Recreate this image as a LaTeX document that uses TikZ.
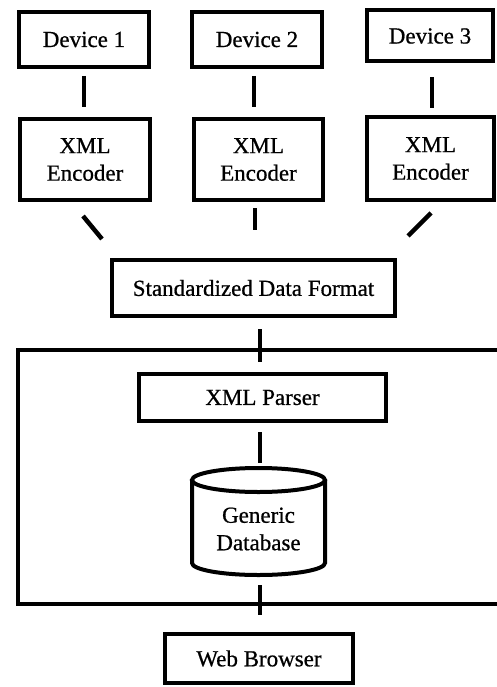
\documentclass[tikz,border=0pt]{standalone}
\usepackage{fontspec}
\setmainfont[FakeBold=0.7]{Liberation Serif}
\usetikzlibrary{calc}
\begin{document}
\begin{tikzpicture}[x=1pt,y=-1pt,
  lbl/.style={font=\fontsize{23}{27.5}\selectfont, align=center, inner sep=0pt},
  box/.style={lbl, draw, line width=4pt},
  link/.style={line width=4.5pt},
  frame/.style={line width=4pt}]
\useasboundingbox (0,0) rectangle (497,687);
\clip (0,0) rectangle (497,687);

% devices
\node[box, minimum width=130pt, minimum height=55pt] (d1) at (84,39.5) {Device 1};
\node[box, minimum width=130pt, minimum height=55pt] (d2) at (257,39.5) {Device 2};
\node[box, minimum width=126pt, minimum height=51pt] (d3) at (430,36) {Device 3};

% encoders
\node[box, minimum width=130pt, minimum height=81pt] (e1) at (85,159.5) {XML\\Encoder};
\node[box, minimum width=129pt, minimum height=81pt] (e2) at (258.5,159.5) {XML\\Encoder};
\node[box, minimum width=127pt, minimum height=83pt] (e3) at (430.5,158.5) {XML\\Encoder};

% common format
\node[box, minimum width=283pt, minimum height=56pt] (sdf) at (253.5,288) {Standardized Data Format};

% server frame (open to the right)
\draw[frame] (505,349.5) -- (18,349.5) -- (18,604) -- (505,604);

% parser
\node[box, minimum width=247pt, minimum height=47pt] (xp) at (262.5,397.5) {XML Parser};

% database cylinder
\draw[line width=4pt] (258.5,480) ellipse [x radius=66.5pt, y radius=12pt];
\draw[line width=4pt] (192,480) -- (192,563)
  arc[start angle=180, end angle=360, x radius=66.5pt, y radius=12pt] -- (325,480);
\node[lbl] (db) at (258.5,529) {Generic\\Database};
\coordinate (dbtop) at (258.5,466);
\coordinate (dbbot) at (258.5,577);

% browser
\node[box, minimum width=188pt, minimum height=49pt] (wb) at (259,658.5) {Web Browser};

% connectors
\draw[link, shorten <=7pt, shorten >=10pt] (d1.south) -- (d1.south |- e1.north);
\draw[link, shorten <=7pt, shorten >=10pt] ([xshift=-3pt]d2.south) -- ([xshift=-3pt]d2.south |- e2.north);
\draw[link, shorten <=14pt, shorten >=7pt] ([xshift=2pt]d3.south) -- ([xshift=2pt]d3.south |- e3.north);

\draw[link] ($(e1.south)+(-2,14)$) -- ($(sdf.north west)+(-8,-19)$);
\draw[link, shorten <=6pt, shorten >=28pt] ([xshift=-3.5pt]e2.south) -- ([xshift=-3.5pt]e2.south |- sdf.north);
\draw[link] ($(e3.south)+(0.5,11)$) -- ($(sdf.north east)+(11,-22)$);

\draw[link, shorten <=11pt, shorten >=10pt] ([xshift=6.5pt]sdf.south) -- ([xshift=6.5pt]sdf.south |- xp.north);
\draw[link, shorten <=9pt, shorten >=3pt] ([xshift=-2.5pt]xp.south) -- ([xshift=-2.5pt]xp.south |- dbtop);
\draw[link, shorten <=8pt, shorten >=17pt] ([xshift=1.5pt]dbbot) -- ([xshift=1.5pt]dbbot |- wb.north);
\end{tikzpicture}
\end{document}
